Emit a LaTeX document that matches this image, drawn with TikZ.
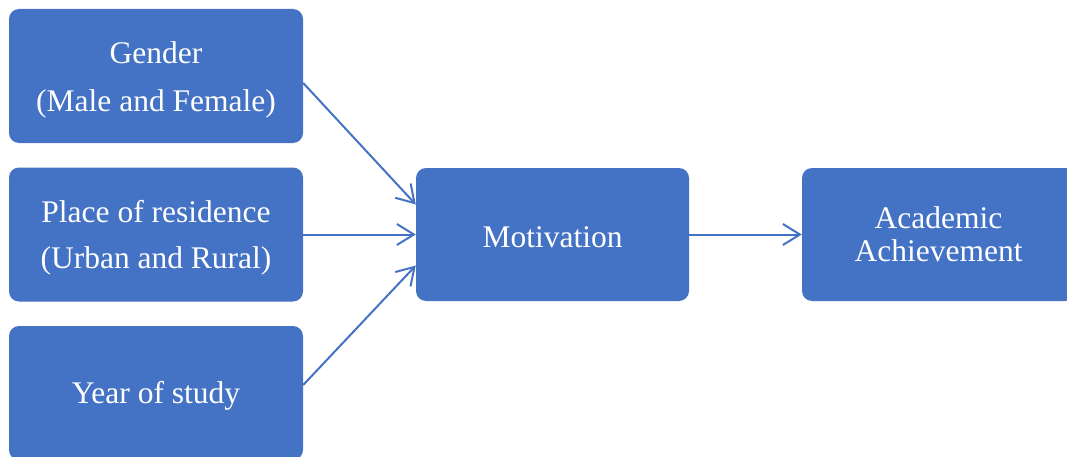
\documentclass[tikz,border=0pt]{standalone}
\usepackage{fontspec}
\setmainfont{Liberation Serif}
\usetikzlibrary{arrows.meta}
\definecolor{boxblue}{HTML}{4472C4}
% strut that pushes the text a little lower in its box
\newcommand{\lowstrut}[1]{\rule{0pt}{#1}}

\tikzset{
  block/.style={rectangle, rounded corners=10pt, fill=boxblue, text=white,
    minimum width=294pt, minimum height=134pt, inner sep=0pt, align=center},
  link/.style={draw=boxblue, line width=2pt,
    -{Straight Barb[length=17pt,width=21pt,line width=2pt]}}
}

\begin{document}
\begin{tikzpicture}[x=1pt,y=1pt]
      \useasboundingbox (0,0) rectangle (1067,456);
      \node[block, font=\fontsize{31.5}{48}\selectfont] (gender) at (156,380) {\lowstrut{29.5pt}Gender\\(Male and Female)};
      \node[block, font=\fontsize{31.5}{46}\selectfont] (residence) at (156,221.5) {\lowstrut{29.5pt}Place of residence\\(Urban and Rural)};
      \node[block, font=\fontsize{31.5}{38}\selectfont] (year) at (156,63) {\lowstrut{28pt}Year of study};
      \node[block, minimum width=273pt, minimum height=133pt, font=\fontsize{31.5}{38}\selectfont] (motiv) at (552.5,221.5) {\lowstrut{25.5pt}Motivation};
      \node[block, minimum width=273pt, minimum height=133pt, font=\fontsize{31.5}{33}\selectfont] (achieve) at (938.5,221.5) {Academic\\Achievement};
      \draw[link] ([yshift=-7pt]gender.east) -- ([yshift=30pt]motiv.west);
      \draw[link] (residence.east) -- (motiv.west);
      \draw[link] ([yshift=8pt]year.east) -- ([yshift=-31pt]motiv.west);
    \draw[link] (motiv.east) -- (achieve.west);
\end{tikzpicture}
\end{document}
